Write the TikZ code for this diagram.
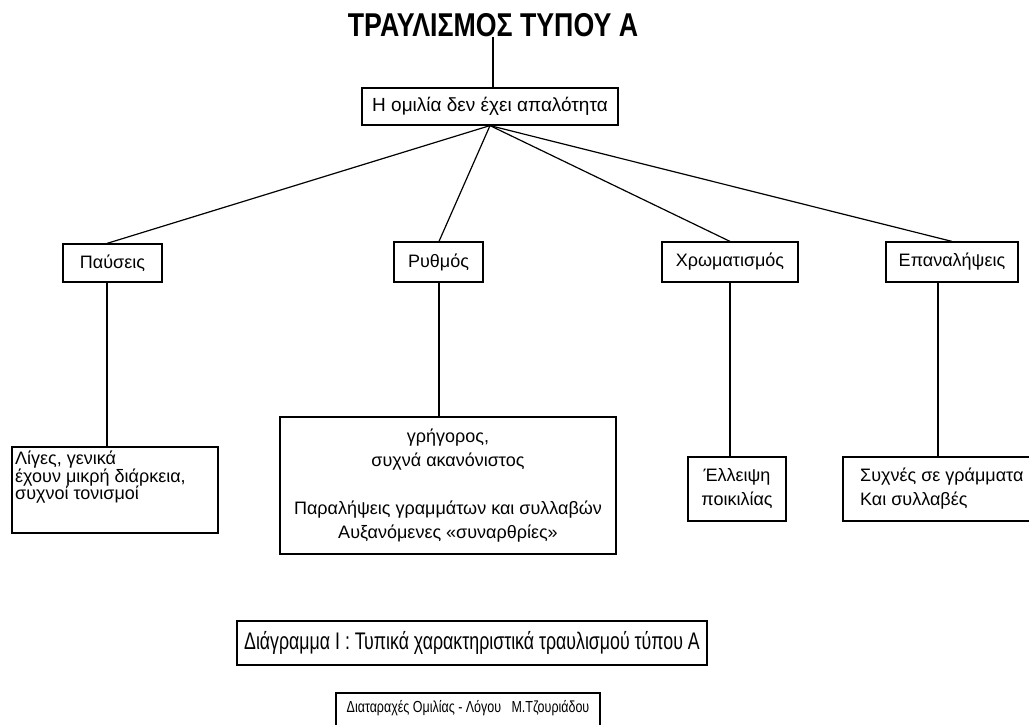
\documentclass[tikz,border=0pt]{standalone}
\usepackage{fontspec}
\setmainfont{Liberation Sans}
\usepackage{graphicx}
\begin{document}
\begin{tikzpicture}[x=1pt,y=-1pt,
  box/.style={draw,line width=1.2pt,inner sep=0pt,font=\fontsize{18}{24}\selectfont},
  conn/.style={line width=1.2pt},
  txt/.style={inner sep=0pt,font=\fontsize{18}{24}\selectfont}]
\useasboundingbox (0,0) rectangle (1029,725);
\fill[white] (0,0) rectangle (1029,725);
% title
\node[inner sep=0pt,font=\fontsize{33}{33}\selectfont\bfseries] (title) at (493,25) {\scalebox{0.81}[1]{ΤΡΑΥΛΙΣΜΟΣ ΤΥΠΟΥ Α}};
\node[box,minimum width=256pt,minimum height=37pt,font=\fontsize{19}{19}\selectfont] (top) at (490,106.5) {Η ομιλία δεν έχει απαλότητα};
% second level
\node[box,minimum width=99pt,minimum height=38pt] (p) at (112.5,263) {Παύσεις};
\node[box,minimum width=89pt,minimum height=40pt] (r) at (438.5,262) {Ρυθμός};
\node[box,minimum width=136pt,minimum height=40pt] (c) at (730,262) {Χρωματισμός};
\node[box,minimum width=132pt,minimum height=40pt] (e) at (952,262) {Επαναλήψεις};
% third level
\node[box,minimum width=206pt,minimum height=86pt] (pl) at (115,490) {};
\node[txt,anchor=north west,align=left,font=\fontsize{18}{17.5}\selectfont] (plt) at (15,451) {Λίγες, γενικά\\έχουν μικρή διάρκεια,\\συχνοί τονισμοί};
\node[box,minimum width=336pt,minimum height=137pt,align=center] (rl) at (448,485.5) {γρήγορος,\\συχνά ακανόνιστος\\[24pt]Παραλήψεις γραμμάτων και συλλαβών\\Αυξανόμενες «συναρθρίες»};
\node[box,minimum width=98pt,minimum height=64pt,align=center] (cl) at (737,489) {Έλλειψη\\ποικιλίας};
\node[box,minimum width=192pt,minimum height=64pt] (el) at (939,489) {};
\node[txt,anchor=west,align=left] (elt) at (860,489) {Συχνές σε γράμματα\\Και συλλαβές};
% captions
\node[box,minimum width=470pt,minimum height=44pt,font=\fontsize{24}{24}\selectfont] (cap) at (472,643) {\scalebox{0.74}[1]{Διάγραμμα Ι : Τυπικά χαρακτηριστικά τραυλισμού τύπου Α}};
\node[box,minimum width=264pt,minimum height=42pt] (src) at (468,714) {};
\node[inner sep=0pt,font=\fontsize{16}{16}\selectfont] (srct) at (468,708) {\scalebox{0.78}[1]{Διαταραχές Ομιλίας - Λόγου \ \ Μ.Τζουριάδου}};
% connectors
\coordinate (xp) at (107,0);
\coordinate (xr) at (439,0);
\coordinate (xe) at (938,0);
\draw[conn] (title.south) -- (title.south |- top.north);
\draw[conn] (top.south) -- (p.north -| xp);
\draw[conn] (top.south) -- (r.north -| xr);
\draw[conn] (top.south) -- (c.north);
\draw[conn] (top.south) -- (e.north);
\draw[conn] (p.south -| xp) -- (pl.north -| xp);
\draw[conn] (r.south -| xr) -- (rl.north -| xr);
\draw[conn] (c.south) -- (c.south |- cl.north);
\draw[conn] (e.south -| xe) -- (el.north -| xe);
\end{tikzpicture}
\end{document}
